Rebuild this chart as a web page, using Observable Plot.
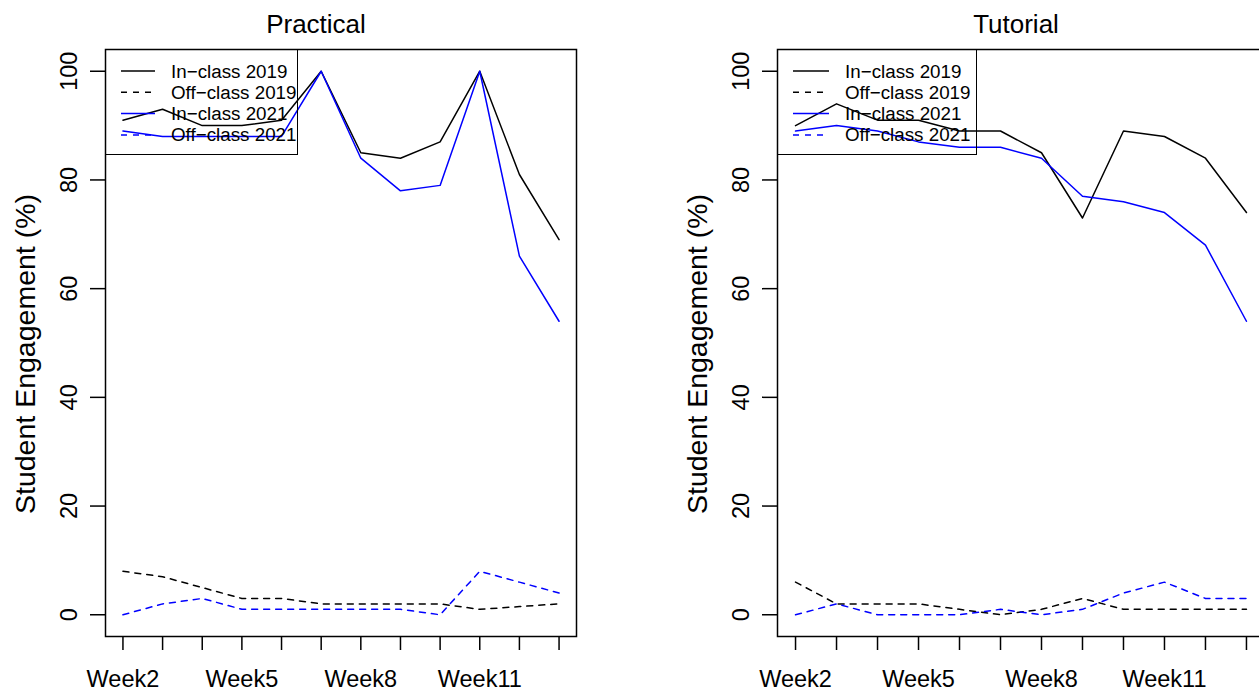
<!DOCTYPE html>
<html>
<head>
<meta charset="utf-8">
<script src="https://cdn.jsdelivr.net/npm/d3@7"></script>
<script src="https://cdn.jsdelivr.net/npm/@observablehq/plot@0.6"></script>
<style>
  html, body { margin: 0; padding: 0; background: white; }
  body { width: 1259px; height: 691px; overflow: hidden; position: relative; font-family: "Liberation Sans", Arial, Helvetica, sans-serif; }
  .panel { position: absolute; top: 0; height: 691px; }
  .panel svg { max-width: none !important; height: 691px !important; }
  .title { position: absolute; top: 24px; transform: translate(-50%, -50%); font-size: 26px; white-space: nowrap; }
  .ylab { position: absolute; font-size: 28.5px; white-space: nowrap; transform: translate(-50%, -50%) rotate(-90deg); }
  .legend { position: absolute; top: 49px; height: 106px; border: 1.5px solid black; box-sizing: border-box; }
  .legend svg { position: absolute; left: 0; top: 0; overflow: visible; }
</style>
</head>
<body>
<script>
// ---- data ----
const weeks = [2, 3, 4, 5, 6, 7, 8, 9, 10, 11, 12, 13];
const labeledWeeks = [2, 5, 8, 11];
const yTicks = [0, 20, 40, 60, 80, 100];
const seriesNames = ["In-class 2019", "Off-class 2019", "In-class 2021", "Off-class 2021"];
const panelTitles = ["Practical", "Tutorial"];
const yLabel = "Student Engagement (%)";

const practicalIn2019  = [91, 93, 90, 90, 91, 100, 85, 84, 87, 100, 81, 69];
const practicalOff2019 = [8, 7, 5, 3, 3, 2, 2, 2, 2, 1, 1.5, 2];
const practicalIn2021  = [89, 88, 88, 88, 88, 100, 84, 78, 79, 100, 66, 54];
const practicalOff2021 = [0, 2, 3, 1, 1, 1, 1, 1, 0, 8, 6, 4];

const tutorialIn2019  = [90, 94, 91, 91, 89, 89, 85, 73, 89, 88, 84, 74];
const tutorialOff2019 = [6, 2, 2, 2, 1, 0, 1, 3, 1, 1, 1, 1];
const tutorialIn2021  = [89, 90, 89, 87, 86, 86, 84, 77, 76, 74, 68, 54];
const tutorialOff2021 = [0, 2, 0, 0, 0, 1, 0, 1, 4, 6, 3, 3];

// ---- styles ----
const seriesColors = ["black", "black", "blue", "blue"];
const seriesDashes = [null, "6,6", null, "6,6"];
const FONT = "'Liberation Sans', Arial, Helvetica, sans-serif";

function buildRows(valueArrays) {
  const rows = [];
  seriesNames.forEach((s, i) => weeks.forEach((w, j) => rows.push({series: s, week: w, value: valueArrays[i][j]})));
  return rows;
}

function makePanel(values, opts) {
  const rows = buildRows(values);
  const lineMarks = seriesNames.map((s, i) =>
    Plot.line(rows.filter(d => d.series === s), {
      x: "week", y: "value", stroke: seriesColors[i], strokeWidth: 1.5,
      strokeDasharray: seriesDashes[i] || undefined
    })
  );
  return Plot.plot({
    width: opts.width, height: 691,
    marginLeft: 105, marginRight: opts.marginRight, marginTop: 49, marginBottom: 55,
    x: {type: "linear", domain: [1.56, 13.44]},
    y: {type: "linear", domain: [-4, 104]},
    style: {fontFamily: FONT, background: "transparent", color: "black", overflow: "visible"},
    marks: [
      ...lineMarks,
      Plot.frame({stroke: "black", strokeWidth: 1.5}),
      Plot.axisX({ticks: weeks, tickSize: 14, tickPadding: 20, strokeWidth: 1.5,
        tickFormat: d => labeledWeeks.includes(d) ? "Week" + d : "", fontSize: 23.5, label: null}),
      Plot.axisY({ticks: yTicks, tickSize: 15, tickPadding: 14, tickRotate: -90, strokeWidth: 1.5,
        tickFormat: d => String(d), fontSize: 23.5, label: null})
    ]
  });
}

function addPanel(left, values, width, marginRight, title, titleX, legendW, sampleX1, sampleX2, textX) {
  const div = document.createElement("div");
  div.className = "panel";
  div.style.left = left + "px";
  div.style.width = width + "px";
  div.appendChild(makePanel(values, {width, marginRight}));
  document.body.appendChild(div);

  const t = document.createElement("div");
  t.className = "title";
  t.style.left = titleX + "px";
  t.textContent = title;
  document.body.appendChild(t);

  const yl = document.createElement("div");
  yl.className = "ylab";
  yl.style.left = (left + 25) + "px";
  yl.style.top = "354px";
  yl.textContent = yLabel;
  document.body.appendChild(yl);

  // legend
  const lg = document.createElement("div");
  lg.className = "legend";
  lg.style.left = (left + 105) + "px";
  lg.style.width = legendW + "px";
  const ns = "http://www.w3.org/2000/svg";
  const svg = document.createElementNS(ns, "svg");
  svg.setAttribute("width", legendW);
  svg.setAttribute("height", 106);
  seriesNames.forEach((s, i) => {
    const yy = 21 + i * 21.3;
    const ln = document.createElementNS(ns, "line");
    ln.setAttribute("x1", sampleX1); ln.setAttribute("x2", sampleX2);
    ln.setAttribute("y1", yy); ln.setAttribute("y2", yy);
    ln.setAttribute("stroke", seriesColors[i]);
    ln.setAttribute("stroke-width", 1.5);
    if (seriesDashes[i]) ln.setAttribute("stroke-dasharray", seriesDashes[i]);
    svg.appendChild(ln);
    const tx = document.createElementNS(ns, "text");
    tx.setAttribute("x", textX); tx.setAttribute("y", yy);
    tx.setAttribute("dy", "0.35em");
    tx.setAttribute("font-size", 18.8);
    tx.setAttribute("font-family", FONT);
    tx.textContent = s.replace("-", "\u2212");
    svg.appendChild(tx);
  });
  lg.appendChild(svg);
  document.body.appendChild(lg);
}

addPanel(0, [practicalIn2019, practicalOff2019, practicalIn2021, practicalOff2021], 600, 24,
  panelTitles[0], 316, 193, 15, 49, 65);
addPanel(672, [tutorialIn2019, tutorialOff2019, tutorialIn2021, tutorialOff2021], 616, 24,
  panelTitles[1], 1016, 200, 15, 51, 67);
</script>
</body>
</html>
